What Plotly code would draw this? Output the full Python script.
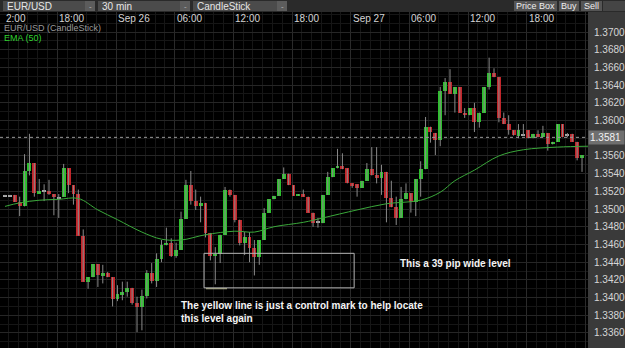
import plotly.graph_objects as go

# ---------------- data (EUR/USD, 30 min candles) ----------------
opens = [1.3515, 1.3515, 1.3516, 1.3508, 1.3503, 1.3543, 1.3552, 1.3518, 1.3520, 1.3520,
         1.3517, 1.3512, 1.3514, 1.3546, 1.3527, 1.3517, 1.3470, 1.3418, 1.3423, 1.3438,
         1.3424, 1.3428, 1.3423, 1.3398, 1.3404, 1.3406, 1.3411, 1.3394, 1.3389, 1.3402,
         1.3428, 1.3419, 1.3444, 1.3459, 1.3462, 1.3447, 1.3454, 1.3489, 1.3527, 1.3509,
         1.3503, 1.3507, 1.3473, 1.3447, 1.3449, 1.3471, 1.3522, 1.3516, 1.3488, 1.3462,
         1.3468, 1.3456, 1.3446, 1.3465, 1.3496, 1.3511, 1.3515, 1.3534, 1.3540, 1.3527,
         1.3515, 1.3517, 1.3514, 1.3496, 1.3485, 1.3484, 1.3516, 1.3536, 1.3546, 1.3549,
         1.3546, 1.3529, 1.3528, 1.3524, 1.3532, 1.3545, 1.3538, 1.3535, 1.3542, 1.3512,
         1.3502, 1.3490, 1.3511, 1.3518, 1.3508, 1.3534, 1.3545, 1.3593, 1.3586, 1.3578,
         1.3633, 1.3644, 1.3630, 1.3638, 1.3609, 1.3606, 1.3614, 1.3598, 1.3609, 1.3638,
         1.3654, 1.3649, 1.3603, 1.3596, 1.3589, 1.3583, 1.3584, 1.3589, 1.3580, 1.3585,
         1.3581, 1.3586, 1.3573, 1.3576, 1.3596, 1.3584, 1.3585, 1.3576, 1.3558]
highs = [1.3516, 1.3516, 1.3516, 1.3514, 1.3562, 1.3585, 1.3552, 1.3534, 1.3528, 1.3533,
         1.3517, 1.3517, 1.3551, 1.3546, 1.3527, 1.3522, 1.3477, 1.3423, 1.3438, 1.3438,
         1.3437, 1.3429, 1.3423, 1.3414, 1.3418, 1.3418, 1.3411, 1.3401, 1.3409, 1.3431,
         1.3439, 1.3450, 1.3465, 1.3479, 1.3467, 1.3462, 1.3497, 1.3533, 1.3543, 1.3522,
         1.3514, 1.3507, 1.3473, 1.3457, 1.3471, 1.3525, 1.3522, 1.3516, 1.3488, 1.3474,
         1.3474, 1.3465, 1.3465, 1.3501, 1.3511, 1.3515, 1.3534, 1.3547, 1.3540, 1.3527,
         1.3517, 1.3522, 1.3514, 1.3496, 1.3490, 1.3516, 1.3542, 1.3546, 1.3568, 1.3563,
         1.3546, 1.3529, 1.3528, 1.3532, 1.3552, 1.3570, 1.3570, 1.3550, 1.3542, 1.3532,
         1.3514, 1.3525, 1.3529, 1.3518, 1.3534, 1.3554, 1.3604, 1.3593, 1.3586, 1.3638,
         1.3648, 1.3658, 1.3638, 1.3638, 1.3614, 1.3614, 1.3620, 1.3609, 1.3638, 1.3671,
         1.3659, 1.3649, 1.3609, 1.3606, 1.3589, 1.3596, 1.3596, 1.3589, 1.3585, 1.3589,
         1.3594, 1.3586, 1.3576, 1.3596, 1.3596, 1.3586, 1.3585, 1.3576, 1.3561]
lows = [1.3515, 1.3515, 1.3508, 1.3492, 1.3503, 1.3538, 1.3514, 1.3518, 1.3509, 1.3516,
        1.3493, 1.3490, 1.3514, 1.3518, 1.3505, 1.3470, 1.3418, 1.3410, 1.3423, 1.3412,
        1.3416, 1.3423, 1.3390, 1.3396, 1.3397, 1.3401, 1.3392, 1.3361, 1.3363, 1.3399,
        1.3416, 1.3412, 1.3440, 1.3459, 1.3446, 1.3445, 1.3454, 1.3489, 1.3505, 1.3499,
        1.3485, 1.3468, 1.3442, 1.3415, 1.3439, 1.3471, 1.3514, 1.3485, 1.3459, 1.3448,
        1.3440, 1.3425, 1.3437, 1.3465, 1.3496, 1.3511, 1.3515, 1.3534, 1.3527, 1.3515,
        1.3515, 1.3514, 1.3496, 1.3480, 1.3479, 1.3484, 1.3516, 1.3536, 1.3546, 1.3545,
        1.3529, 1.3524, 1.3514, 1.3524, 1.3532, 1.3538, 1.3529, 1.3516, 1.3485, 1.3502,
        1.3482, 1.3490, 1.3511, 1.3496, 1.3492, 1.3514, 1.3545, 1.3575, 1.3561, 1.3571,
        1.3606, 1.3630, 1.3609, 1.3609, 1.3603, 1.3606, 1.3587, 1.3592, 1.3609, 1.3635,
        1.3649, 1.3598, 1.3596, 1.3584, 1.3583, 1.3580, 1.3583, 1.3580, 1.3580, 1.3581,
        1.3581, 1.3566, 1.3573, 1.3576, 1.3581, 1.3581, 1.3576, 1.3555, 1.3542]
closes = [1.3515, 1.3515, 1.3508, 1.3503, 1.3543, 1.3552, 1.3518, 1.3520, 1.3520, 1.3517,
          1.3514, 1.3512, 1.3546, 1.3527, 1.3517, 1.3470, 1.3418, 1.3423, 1.3438, 1.3425,
          1.3428, 1.3423, 1.3398, 1.3404, 1.3406, 1.3411, 1.3394, 1.3389, 1.3402, 1.3428,
          1.3419, 1.3444, 1.3459, 1.3462, 1.3447, 1.3454, 1.3489, 1.3527, 1.3509, 1.3503,
          1.3507, 1.3473, 1.3447, 1.3449, 1.3471, 1.3522, 1.3516, 1.3488, 1.3462, 1.3468,
          1.3456, 1.3446, 1.3465, 1.3496, 1.3511, 1.3515, 1.3534, 1.3540, 1.3527, 1.3515,
          1.3517, 1.3514, 1.3496, 1.3484, 1.3485, 1.3516, 1.3536, 1.3546, 1.3549, 1.3545,
          1.3529, 1.3527, 1.3524, 1.3532, 1.3545, 1.3538, 1.3535, 1.3542, 1.3512, 1.3502,
          1.3490, 1.3511, 1.3518, 1.3508, 1.3534, 1.3545, 1.3593, 1.3587, 1.3578, 1.3633,
          1.3644, 1.3630, 1.3638, 1.3609, 1.3606, 1.3614, 1.3598, 1.3609, 1.3638, 1.3654,
          1.3649, 1.3603, 1.3596, 1.3589, 1.3584, 1.3589, 1.3584, 1.3580, 1.3585, 1.3581,
          1.3586, 1.3573, 1.3576, 1.3596, 1.3581, 1.3584, 1.3576, 1.3558, 1.3561]

ema_idx = [0, 3, 7, 11, 15, 19, 23, 28, 32, 36, 41, 47, 51, 55, 61, 65, 72, 78, 85, 89,
           92, 96, 101, 106, 113, 119.3]
ema_val = [1.3503, 1.3507, 1.3510, 1.3511, 1.3512, 1.3499, 1.3488, 1.3474, 1.3466, 1.3465,
           1.3471, 1.3475, 1.3474, 1.3480, 1.3485, 1.3490, 1.3499, 1.3506, 1.3510, 1.3519,
           1.3532, 1.3544, 1.3560, 1.3567, 1.3570, 1.3571]

time_labels = ["2:00", "18:00", "Sep 26", "06:00", "12:00", "18:00", "Sep 27", "06:00", "12:00", "18:00"]
time_pos = [-0.3, 10.7, 22.7, 34.7, 46.7, 58.7, 70.7, 82.7, 94.7, 106.7]

# 1.3580 is hidden behind the current-price tag in the reference
price_ticks = [1.3700, 1.3680, 1.3660, 1.3640, 1.3620, 1.3600, 1.3560, 1.3540,
               1.3520, 1.3500, 1.3480, 1.3460, 1.3440, 1.3420, 1.3400, 1.3380, 1.3360]
current_price = 1.3581
level_low, level_high = 1.3411, 1.3450
control_mark = 1.3410

# ---------------- styling ----------------
W, H = 625, 348
L, R, T, B = 0, 37, 12, 0
PW, PH = W - L - R, H - T - B
GREEN, RED, GRAY = "#2cc02c", "#c3262b", "#a8a8a8"
FONT = "Liberation Sans, Arial, sans-serif"

def fx(px):
    return (px - L) / PW

def fy(py):
    return (H - B - py) / PH

n = len(opens)
idx = list(range(n))

# wicks
wx, wy = [], []
for i in idx:
    wx += [i, i, None]
    wy += [lows[i], highs[i], None]

# bodies
base, height, colors = [], [], []
for i in idx:
    o, c = opens[i], closes[i]
    lo, hi = min(o, c), max(o, c)
    if hi - lo < 0.00012:
        mid = (hi + lo) / 2
        lo, hi = mid - 0.00006, mid + 0.00006
    base.append(lo)
    height.append(hi - lo)
    colors.append(GREEN if c > o else (RED if c < o else GRAY))

fig = go.Figure()
fig.add_trace(go.Scatter(x=wx, y=wy, mode="lines", line=dict(color="#8a8a8a", width=1),
                         hoverinfo="skip"))
fig.add_trace(go.Scatter(x=ema_idx, y=ema_val, mode="lines", line=dict(color="#3aa83a", width=1, shape="spline"),
                         hoverinfo="skip"))
fig.add_trace(go.Bar(x=idx, y=height, base=base, width=0.8, marker=dict(color=colors, line=dict(width=0)),
                     hoverinfo="skip"))

shapes = []
# right price panel
shapes.append(dict(type="rect", xref="paper", yref="paper", x0=1, x1=W / PW, y0=0, y1=1,
                   fillcolor="#3a3a3a", line=dict(width=0), layer="below"))
# current price dashed line
shapes.append(dict(type="line", xref="paper", yref="y", x0=0, x1=1, y0=current_price, y1=current_price,
                   line=dict(color="#9a9a9a", width=1, dash="dot")))
# level box
shapes.append(dict(type="rect", xref="x", yref="y", x0=40.7, x1=71.4, y0=level_low, y1=level_high,
                   line=dict(color="#b4b4b4", width=1)))
# control mark
shapes.append(dict(type="line", xref="x", yref="y", x0=41.1, x1=45.4, y0=control_mark, y1=control_mark,
                   line=dict(color="#bdbd9c", width=1)))

annotations = []
# top toolbar dropdowns
for label, x0, x1 in [("EUR/USD", 3, 95), ("30 min", 98, 190), ("CandleStick", 193, 287)]:
    shapes.append(dict(type="rect", xref="paper", yref="paper", x0=fx(x0), x1=fx(x1), y0=fy(11), y1=fy(1),
                       fillcolor="#4b4b4b", line=dict(width=0)))
    shapes.append(dict(type="rect", xref="paper", yref="paper", x0=fx(x1 - 10), x1=fx(x1), y0=fy(11), y1=fy(1),
                       fillcolor="#5c5c5c", line=dict(width=0)))
    annotations.append(dict(text=label, xref="paper", yref="paper", x=fx(x0 + 2), y=fy(6), xanchor="left",
                            yanchor="middle", showarrow=False, font=dict(family=FONT, size=10, color="#e6e6e6")))
    annotations.append(dict(text="-", xref="paper", yref="paper", x=fx(x1 - 5), y=fy(6), xanchor="center",
                            yanchor="middle", showarrow=False, font=dict(family=FONT, size=8, color="#bbbbbb")))
for label, x0, x1 in [("Price Box", 514, 557), ("Buy", 559, 579), ("Sell", 581, 602)]:
    shapes.append(dict(type="rect", xref="paper", yref="paper", x0=fx(x0), x1=fx(x1), y0=fy(11), y1=fy(1),
                       fillcolor="#555555", line=dict(width=0)))
    annotations.append(dict(text=label, xref="paper", yref="paper", x=fx((x0 + x1) / 2), y=fy(6), xanchor="center",
                            yanchor="middle", showarrow=False, font=dict(family=FONT, size=9, color="#eeeeee")))
shapes.append(dict(type="rect", xref="paper", yref="paper", x0=fx(603), x1=fx(625), y0=fy(11), y1=fy(1),
                   fillcolor="#454545", line=dict(width=0)))

# time labels
for lab, pos in zip(time_labels, time_pos):
    annotations.append(dict(text=lab, xref="x", yref="paper", x=pos, y=fy(18), xanchor="left", yanchor="middle",
                            showarrow=False, font=dict(family=FONT, size=10, color="#d4d4d4")))

# legend-like texts
annotations.append(dict(text="EUR/USD (CandleStick)", xref="paper", yref="paper", x=fx(2), y=fy(28),
                        xanchor="left", yanchor="middle", showarrow=False,
                        font=dict(family=FONT, size=9, color="#9a9a9a")))
annotations.append(dict(text="EMA (50)", xref="paper", yref="paper", x=fx(2), y=fy(38),
                        xanchor="left", yanchor="middle", showarrow=False,
                        font=dict(family=FONT, size=9, color="#2fd22f")))

# current price tag
annotations.append(dict(text="1.3581 ", xref="paper", yref="y", x=1, y=current_price, xanchor="left",
                        yanchor="middle", showarrow=False, bgcolor="#6f6f6f", borderpad=1,
                        font=dict(family=FONT, size=10, color="#f2f2f2")))

# chart notes
annotations.append(dict(text="<b>This a 39 pip wide level</b>", xref="x", yref="y", x=80.4, y=1.3438,
                        xanchor="left", yanchor="middle", showarrow=False,
                        font=dict(family=FONT, size=10, color="#f4f4f4")))
annotations.append(dict(text="<b>The yellow line is just a control mark to help locate<br>this level again</b>",
                        xref="x", yref="y", x=35.6, y=1.3384, xanchor="left", yanchor="middle", align="left",
                        showarrow=False, font=dict(family=FONT, size=10, color="#f4f4f4")))

fig.update_layout(
    width=W, height=H,
    margin=dict(l=L, r=R, t=T, b=B, pad=0),
    paper_bgcolor="#2a2a2a", plot_bgcolor="#000000",
    showlegend=False, bargap=0,
    shapes=shapes, annotations=annotations,
    xaxis=dict(range=[-1.02, 119.22], showticklabels=False, ticks="", zeroline=False,
               tick0=10.7, dtick=12, showgrid=True, gridcolor="#2a2a2a", gridwidth=1,
               minor=dict(tick0=10.7, dtick=2, showgrid=True, gridcolor="#161616", gridwidth=1)),
    yaxis=dict(range=[1.334305, 1.37226], side="right", tickvals=price_ticks,
               ticktext=[f"{v:.4f}" for v in price_ticks], ticks="", ticklabelstandoff=5,
               tickfont=dict(family=FONT, size=10, color="#d6d6d6"), zeroline=False,
               showgrid=True, gridcolor="#262626", gridwidth=1,
               minor=dict(dtick=0.001, showgrid=True, gridcolor="#161616", gridwidth=1)),
)

fig.write_html("out.html")
